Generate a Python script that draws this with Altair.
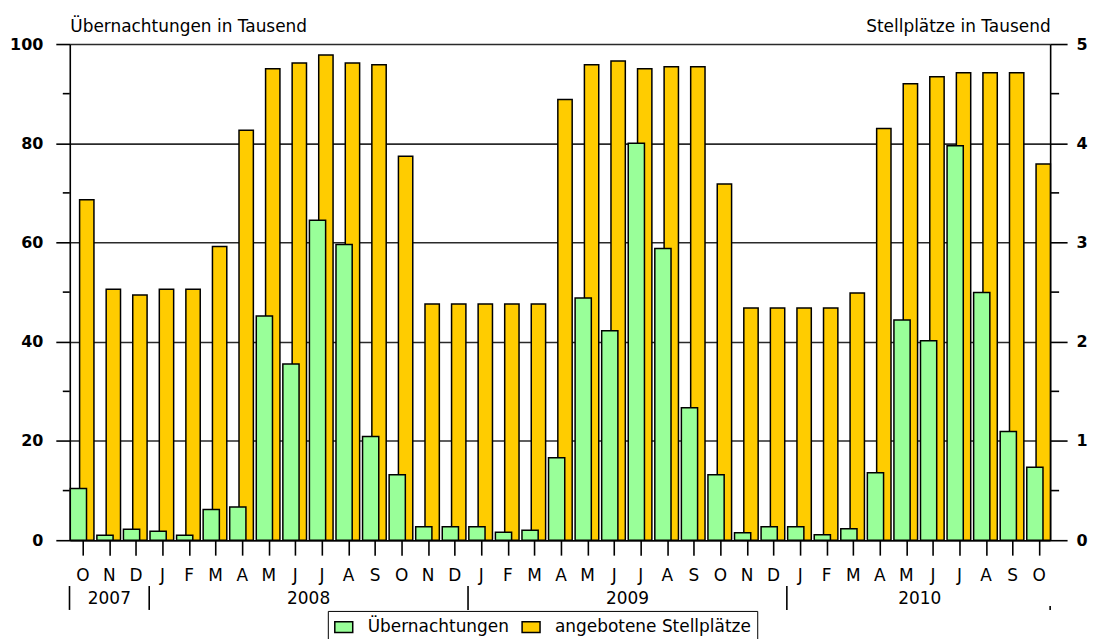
import json
import altair as alt
import pandas as pd

# ---------------- data ----------------
months = ["O", "N", "D",
          "J", "F", "M", "A", "M", "J", "J", "A", "S", "O", "N", "D",
          "J", "F", "M", "A", "M", "J", "J", "A", "S", "O", "N", "D",
          "J", "F", "M", "A", "M", "J", "J", "A", "S", "O"]
years_of_month = ["2007"] * 3 + ["2008"] * 12 + ["2009"] * 12 + ["2010"] * 10

# Übernachtungen in Tausend (left axis)
uebernachtungen = [10.4, 1.0, 2.2,
                   1.8, 1.0, 6.2, 6.7, 45.2, 35.5, 64.5, 59.6, 20.9, 13.2, 2.7, 2.7,
                   2.7, 1.6, 2.0, 16.6, 48.8, 42.2, 80.0, 58.8, 26.7, 13.2, 1.5, 2.7,
                   2.7, 1.1, 2.3, 13.6, 44.4, 40.2, 79.5, 49.9, 21.9, 14.7]
# angebotene Stellplätze in Tausend (right axis)
stellplaetze = [3.43, 2.53, 2.47,
                2.53, 2.53, 2.96, 4.13, 4.75, 4.81, 4.89, 4.81, 4.79, 3.87, 2.38, 2.38,
                2.38, 2.38, 2.38, 4.44, 4.79, 4.83, 4.75, 4.77, 4.77, 3.59, 2.34, 2.34,
                2.34, 2.34, 2.49, 4.15, 4.60, 4.67, 4.71, 4.71, 4.71, 3.79]

left_major = [0, 20, 40, 60, 80, 100]
left_minor = [10, 30, 50, 70, 90]
right_major = [0, 1, 2, 3, 4, 5]
right_minor = [0.5, 1.5, 2.5, 3.5, 4.5]

series_names = ["Übernachtungen", "angebotene Stellplätze"]
series_colors = ["#99FF99", "#FFCC00"]

df = pd.DataFrame({
    "i": list(range(len(months))),
    "monat": months,
    "jahr": years_of_month,
    "ueb": uebernachtungen,
    "stell": stellplaetze,
})

FONT = "DejaVu Sans"
W, H = 984, 498

xs = alt.Scale(domain=[-0.49, 36.41], nice=False, zero=False)
ls = alt.Scale(domain=[0, 100], nice=False, zero=True)
rs = alt.Scale(domain=[0, 5], nice=False, zero=True)
fill_scale = alt.Scale(domain=series_names, range=series_colors)

legend = alt.Legend(
    orient="none", legendX=259, legendY=569, direction="horizontal", title=None,
    strokeColor="black", padding=6, labelFont=FONT, labelFontSize=17,
    labelColor="black", labelOffset=14, columnPadding=10, labelLimit=400,
    symbolType="M-1,-0.61H1V0.61H-1Z", symbolSize=324,
    symbolStrokeColor="black", symbolStrokeWidth=1.5, symbolOpacity=1,
)

x_axis = alt.Axis(
    values=list(range(len(months))), tickSize=15, tickColor="black", tickWidth=1.6,
    labels=False, domain=True, domainColor="black", domainWidth=1.6, grid=False,
    title="",
)


def X(field):
    # every layer shares the same x scale and the same (single) x axis
    return alt.X(field, scale=xs, axis=x_axis)


left_axis = alt.Axis(
    orient="left", values=left_major, tickSize=14, tickColor="black", tickWidth=1.6,
    domain=True, domainColor="black", domainWidth=1.6,
    grid=True, gridColor="#2a2a2a", gridWidth=1.6,
    labelFont=FONT, labelFontSize=16, labelFontWeight="bold", labelColor="black",
    labelPadding=13,
    title="Übernachtungen in Tausend", titleAngle=0, titleAlign="left",
    titleBaseline="alphabetic", titleX=0, titleY=-13, titleFont=FONT,
    titleFontSize=17, titleFontWeight="normal", titleColor="black",
)

right_axis = alt.Axis(
    orient="right", values=right_major, tickSize=17, tickColor="black", tickWidth=1.6,
    domain=True, domainColor="black", domainWidth=1.6, grid=False,
    labelFont=FONT, labelFontSize=16, labelFontWeight="bold", labelColor="black",
    labelPadding=9,
    title="Stellplätze in Tausend", titleAngle=0, titleAlign="right",
    titleBaseline="alphabetic", titleX=0, titleY=-13, titleFont=FONT,
    titleFontSize=17, titleFontWeight="normal", titleColor="black",
)

base = alt.Chart(df)

# orange bars (right axis)
orange = base.transform_calculate(
    x0="datum.i - 0.12", x1="datum.i + 0.42", serie=json.dumps(series_names[1])
).mark_bar(stroke="black", strokeWidth=1.5).encode(
    x=X("x0:Q"),
    x2="x1:Q",
    y=alt.Y("stell:Q", scale=rs, axis=right_axis),
    y2=alt.datum(0),
    fill=alt.Fill("serie:N", scale=fill_scale, legend=legend),
)

# green bars (left axis)
green = base.transform_calculate(
    x0="datum.i - 0.47", x1="datum.i + 0.14", serie=json.dumps(series_names[0])
).mark_bar(stroke="black", strokeWidth=1.5).encode(
    x=X("x0:Q"),
    x2="x1:Q",
    y=alt.Y("ueb:Q", scale=ls, axis=left_axis),
    y2=alt.datum(0),
    fill=alt.Fill("serie:N", scale=fill_scale, legend=legend),
)

minor_r = alt.Chart(pd.DataFrame({"v": right_minor})).mark_rule(
    color="black", strokeWidth=1.6
).encode(
    y=alt.Y("v:Q", scale=rs, axis=None),
    x=alt.value(W),
    x2=alt.value(W + 9),
)

minor_l = alt.Chart(pd.DataFrame({"v": left_minor})).mark_rule(
    color="black", strokeWidth=1.6
).encode(
    y=alt.Y("v:Q", scale=ls, axis=None),
    x=alt.value(-7),
    x2=alt.value(0),
)

month_text = base.mark_text(
    font=FONT, fontSize=17, baseline="alphabetic", align="center", color="black"
).encode(
    x=X("i:Q"),
    y=alt.value(539),
    text="monat:N",
)

year_text = base.transform_aggregate(
    mid="mean(i)", groupby=["jahr"]
).mark_text(
    font=FONT, fontSize=17, baseline="alphabetic", align="center", color="black"
).encode(
    x=X("mid:Q"),
    y=alt.value(562),
    text="jahr:N",
)

separators = base.transform_aggregate(
    lo="min(i)", groupby=["jahr"]
).transform_calculate(
    sx="datum.lo - 0.5"
).mark_rule(color="black", strokeWidth=1.6).encode(
    x=X("sx:Q"),
    y=alt.value(544),
    y2=alt.value(568),
)

end_mark = base.transform_aggregate(
    hi="max(i)"
).transform_calculate(
    sx="datum.hi + 0.41"
).mark_rule(color="black", strokeWidth=1.6).encode(
    x=X("sx:Q"),
    y=alt.value(564),
    y2=alt.value(568),
)

chart = alt.layer(
    orange, green, minor_l, minor_r, month_text, year_text, separators, end_mark
).resolve_scale(
    y="independent"
).properties(
    width=W, height=H,
    padding={"left": 62, "top": 35, "right": 40, "bottom": 98},
    autosize=alt.AutoSizeParams(type="none"),
    background="white",
).configure(
    font=FONT
).configure_view(
    strokeWidth=0
)

chart.save("out.html", embed_options={"renderer": "svg", "actions": False})
